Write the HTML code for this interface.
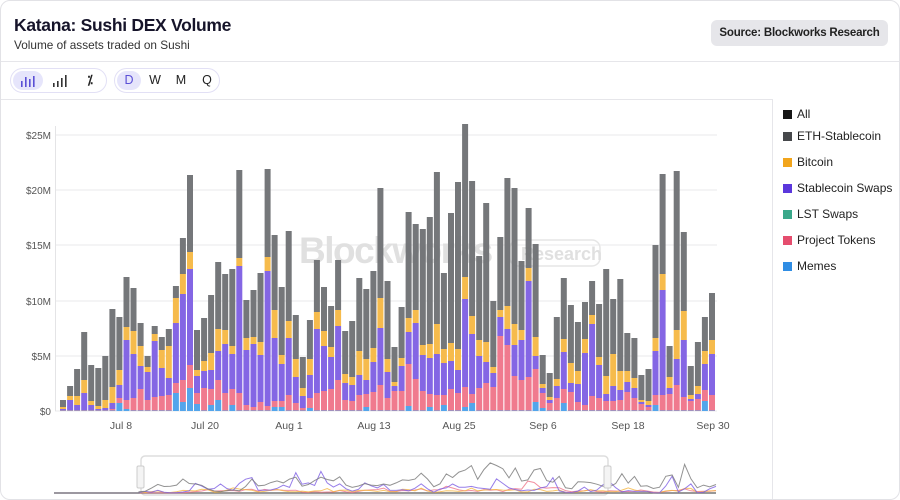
<!DOCTYPE html>
<html><head><meta charset="utf-8">
<style>
*{box-sizing:border-box;margin:0;padding:0}
body{width:900px;height:500px;background:#fff;font-family:"Liberation Sans",sans-serif;overflow:hidden;position:relative}
.card{position:absolute;left:0;top:0;width:900px;height:500px;border:1px solid #e2e2e6;border-radius:10px;background:#fff;overflow:hidden}
.title{position:absolute;left:13px;top:14px;font-size:17.5px;font-weight:bold;color:#16142a;letter-spacing:-0.3px;white-space:nowrap}
.sub{position:absolute;left:13px;top:37px;font-size:11.8px;color:#333;white-space:nowrap}
.src{position:absolute;left:710px;top:19px;width:177px;height:26px;background:#e6e6ea;border-radius:6px;font-size:11.5px;font-weight:bold;color:#222;text-align:center;line-height:26px;white-space:nowrap;letter-spacing:-0.2px}
.hl{position:absolute;left:0;width:900px;height:1px;background:#e6e6ea}
.grp{position:absolute;top:67px;height:25px;border:1px solid #e2e0f5;border-radius:13px}
.btn{position:absolute;top:2px;height:19px;border-radius:10px;font-size:12.5px;color:#222;text-align:center;line-height:19px}
.sel{background:#e6e5fb;color:#5a4fd6}
.leg{position:absolute;left:782px;font-size:12px;color:#222}
.leg i{position:absolute;left:0;top:3px;width:9px;height:9px}
.leg span{position:absolute;left:14px;top:0;white-space:nowrap}
</style></head><body>
<div class="card">
<div class="title">Katana: Sushi DEX Volume</div>
<div class="sub">Volume of assets traded on Sushi</div>
<div class="src">Source: Blockworks Research</div>
<div class="hl" style="top:60px"></div>
<div class="hl" style="top:98px;width:771px"></div>
<div class="grp" style="left:9px;width:97px">
 <div class="btn sel" style="left:2px;width:30px"><svg width="16" height="12" style="margin-top:4px"><g fill="#5a4fd6"><rect x="1" y="6" width="1.6" height="6"/><rect x="5" y="2" width="1.6" height="10"/><rect x="9" y="4" width="1.6" height="8"/><rect x="13" y="1" width="1.6" height="11"/></g></svg></div>
 <div class="btn" style="left:36px;width:26px"><svg width="16" height="12" style="margin-top:4px"><g fill="#333"><rect x="1" y="8" width="1.6" height="4"/><rect x="5" y="6" width="1.6" height="6"/><rect x="9" y="3" width="1.6" height="9"/><rect x="13" y="0" width="1.6" height="12"/></g></svg></div>
 <div class="btn" style="left:68px;width:22px;font-weight:bold">⁒</div>
</div>
<div class="grp" style="left:113px;width:106px">
 <div class="btn sel" style="left:2px;width:24px">D</div>
 <div class="btn" style="left:30px;width:20px">W</div>
 <div class="btn" style="left:56px;width:20px">M</div>
 <div class="btn" style="left:82px;width:20px">Q</div>
</div>
<div style="position:absolute;left:771px;top:98px;width:1px;height:402px;background:#e6e6ea"></div>
<div class="leg" style="top:106px"><i style="background:#161616"></i><span>All</span></div>
<div class="leg" style="top:128px"><i style="background:#46484b"></i><span>ETH-Stablecoin</span></div>
<div class="leg" style="top:154px"><i style="background:#f2a51c"></i><span>Bitcoin</span></div>
<div class="leg" style="top:180px"><i style="background:#5b37dc"></i><span>Stablecoin Swaps</span></div>
<div class="leg" style="top:206px"><i style="background:#3aa88a"></i><span>LST Swaps</span></div>
<div class="leg" style="top:232px"><i style="background:#e54d6e"></i><span>Project Tokens</span></div>
<div class="leg" style="top:258px"><i style="background:#2f8de4"></i><span>Memes</span></div>
<svg id="ch" width="900" height="500" style="position:absolute;left:0;top:0"></svg>
</div>
<script>
var T=[399,385,368,331,364,367,355,308,316,276,287,322,355,325,336,328,285,237,174,329,317,294,261,273,268,169,299,289,272,168,234,286,230,314,356,319,259,286,305,259,330,320,277,288,270,187,280,346,306,211,223,228,216,171,272,212,181,123,180,255,202,300,236,177,187,260,207,243,354,372,316,277,304,321,301,280,303,268,298,278,332,337,374,368,244,173,345,170,231,365,341,316,292];
var S=[[406,408,409],[395,399,409],[395,404,409],[379,392,409],[400,404,409],[405,408,409],[399,407,409],[386,402,408],[369,384,397,402],[326,339,399,408],[330,353,397],[345,365,388],[366,371,399],[333,340,396],[349,367,395],[345,377,394],[297,322,382,392],[273,293,379,401],[251,268,364,387],[369,375,392,403],[360,370,387],[352,369,388,404],[328,350,379,399],[329,343,392],[345,353,388,404],[257,265,392],[337,349,404],[336,343,406],[341,354,401],[256,270,405],[309,337,400,406],
[354,363,400,406],[320,337,394],[358,376,402],[387,395,407],[358,374,397,407],[311,328,392],[330,345,390],[346,356,388],[309,325,379],[373,382,399],[376,384,400],[350,374,394],[358,379,393,406],[347,361,391],[297,327,384],[358,371,397],[381,385,390],[357,365,390],[317,331,363,405],[309,322,378],[344,354,390],[343,357,393,406],[323,353,394],[348,362,394,404],[342,360,388],[348,369,392],[276,298,386,406],[315,333,393,402],[339,355,387],[341,361,382],[366,372,386],
[309,316,335],[305,328,344],[323,344,375],[329,339,379],[267,280,376],[336,355,368,401],[383,387,392,407],[396,399,402],[378,385,397],[338,351,388,402],[362,382,391],[370,383,401],[338,352,404],[314,323,395],[356,364,397],[375,393,400],[353,385,400],[370,389,399],[370,381,391],[377,387,397],[399,401,403],[400,404,406],[337,350,394,404],[273,289,394],[376,387,393],[329,358,384],[310,339,396],[394,398,400],[385,393,398],[350,363,389,400],[339,353,394]];
var C=["#6e7073","#f5b742","#7d5ee3","#ef7388","#4aa0ea"];
var h='',i,k;
var grid=[[134,'$25M'],[189,'$20M'],[244,'$15M'],[300,'$10M'],[355,'$5M'],[410,'$0']];
grid.forEach(function(g){h+='<line x1="54" x2="716" y1="'+g[0]+'" y2="'+g[0]+'" stroke="#eeeeef" stroke-width="1.2"/>';h+='<text x="50" y="'+(g[0]+4)+'" font-size="10" fill="#555" text-anchor="end">'+g[1]+'</text>';});
h+='<line x1="54.5" x2="54.5" y1="125" y2="410" stroke="#e4e4e6"/>';
h+='<text x="298" y="262" font-size="37" font-weight="bold" fill="#e0e0e0" letter-spacing="-1.5">Blockworks</text>';
h+='<rect x="509" y="239" width="90" height="26" rx="8" fill="none" stroke="#e6e6e6" stroke-width="1.5"/><text x="520" y="259" font-size="18" font-weight="bold" fill="#e0e0e0">Research</text>';
for(i=0;i<T.length;i++){var x=59+i*7.054,s=S[i],tops=[T[i],s[0],s[1],s[2],s[3]||409.5],bot=[s[0],s[1],s[2],s[3]||409.5,410];
 for(k=0;k<5;k++){var y0=tops[k],y1=bot[k];if(y1-y0>0.2)h+='<rect x="'+x.toFixed(1)+'" y="'+y0+'" width="6" height="'+(y1-y0)+'" fill="'+C[k]+'" opacity="0.95"/>';}}
[[120,'Jul 8'],[204,'Jul 20'],[288,'Aug 1'],[373,'Aug 13'],[458,'Aug 25'],[542,'Sep 6'],[627,'Sep 18'],[712,'Sep 30']].forEach(function(l){h+='<text x="'+l[0]+'" y="428" font-size="10.5" fill="#555" text-anchor="middle">'+l[1]+'</text>';});
var n=T.length;
function line(idx,col,sc){var p='53,492 138,492';for(var j=0;j<n;j++){var xx=138+j*(715-138)/(n-1);var s=S[j];var v;
 if(idx==0)v=s[0]-T[j];else if(idx==1)v=s[1]-s[0];else if(idx==2)v=s[2]-s[1];else v=(s[3]||409.5)-s[2];
 p+=' '+xx.toFixed(1)+','+(492-v*sc).toFixed(1);}return '<polyline points="'+p+'" fill="none" stroke="'+col+'" stroke-width="1" opacity="0.8"/>';}
h+='<rect x="140" y="455" width="467" height="39" rx="4" fill="none" stroke="#ddd" stroke-width="1.5"/>';
h+='<line x1="53" x2="715" y1="492" y2="492" stroke="#777" stroke-width="1.5"/>';
h+=line(3,'#ef7388',0.16)+line(1,'#f5b742',0.16)+line(2,'#7d5ee3',0.16)+line(0,'#777',0.18);
h+='<rect x="136" y="465" width="7" height="22" rx="1.5" fill="#f4f4f4" stroke="#ccc"/><rect x="603" y="465" width="7" height="22" rx="1.5" fill="#f4f4f4" stroke="#ccc"/>';
document.getElementById('ch').innerHTML=h;
</script>
</body></html>
